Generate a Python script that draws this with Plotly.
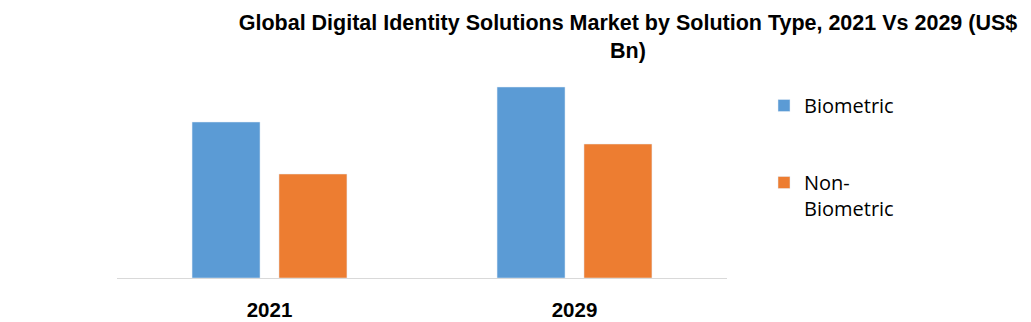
import plotly.graph_objects as go

years = ["2021", "2029"]
biometric = [15.6, 19.1]
non_biometric = [10.4, 13.4]
series_names = ["Biometric", "Non-<br>Biometric"]
colors = ["#5B9BD5", "#ED7D31"]
title_text = "Global Digital Identity Solutions Market by Solution Type, 2021 Vs 2029 (US$<br>Bn)"

fig = go.Figure()
fig.add_trace(go.Bar(x=years, y=biometric, name=series_names[0], marker_color=colors[0],
                     legendgroup="a"))
fig.add_trace(go.Bar(x=years, y=non_biometric, name=series_names[1], marker_color=colors[1],
                     legendgroup="b"))

fig.update_layout(
    width=1031, height=322,
    margin=dict(l=117, r=304, t=80, b=44, autoexpand=False),
    paper_bgcolor="white", plot_bgcolor="white",
    barmode="group", bargap=0.43, bargroupgap=0.218,
    title=dict(text=title_text, x=628/1031, xref="container", xanchor="center",
               y=1 - 30/322, yref="container", yanchor="middle",
               font=dict(family="Liberation Sans Narrow, Liberation Sans, Arial", size=21.5,
                         color="#000000", weight="bold")),
    xaxis=dict(showline=True, linecolor="#D9D9D9", linewidth=1, ticks="",
               tickfont=dict(family="Liberation Sans, Arial", size=20.5, color="#000000",
                             weight="bold"),
               ticklabelstandoff=13, showgrid=False, zeroline=False, fixedrange=True),
    yaxis=dict(range=[0, 19.8], visible=False, showgrid=False, zeroline=False, fixedrange=True),
    legend=dict(x=(764 - 117) / 610, y=(278 - 86) / 198, xanchor="left", yanchor="top",
                font=dict(family="Open Sans, Noto Sans", size=20, color="#000000"),
                traceorder="grouped", tracegroupgap=48, valign="top", itemwidth=30,
                bgcolor="rgba(0,0,0,0)"),
    showlegend=True,
)
fig.write_html("out.html")
